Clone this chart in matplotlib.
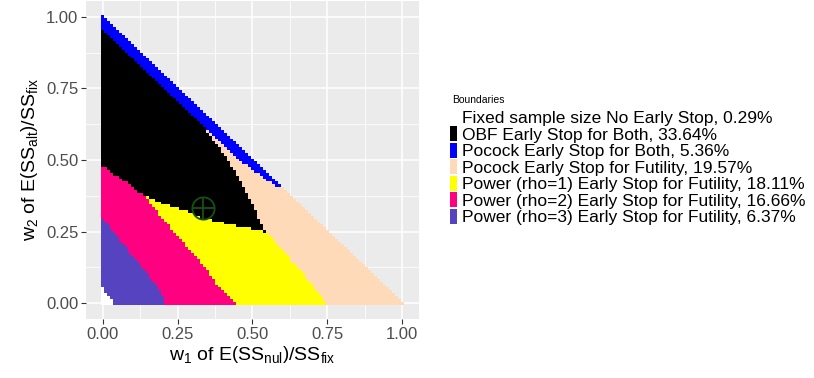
import numpy as np
import matplotlib
matplotlib.use("Agg")
import matplotlib.pyplot as plt
from matplotlib.colors import ListedColormap, BoundaryNorm
from matplotlib.patches import Patch

plt.rcParams["font.family"] = ["Liberation Sans", "DejaVu Sans"]
plt.rcParams["mathtext.fontset"] = "custom"
plt.rcParams["mathtext.rm"] = "Liberation Sans"
plt.rcParams["mathtext.it"] = "Liberation Sans:italic"

categories = [
    "Fixed sample size No Early Stop",
    "OBF Early Stop for Both",
    "Pocock Early Stop for Both",
    "Pocock Early Stop for Futility",
    "Power (rho=1) Early Stop for Futility",
    "Power (rho=2) Early Stop for Futility",
    "Power (rho=3) Early Stop for Futility",
]
shares = ["0.29%", "33.64%", "5.36%", "19.57%", "18.11%", "16.66%", "6.37%"]
colors = ["#FFFFFF", "#000000", "#0000FF", "#FFDAB9", "#FFFF00", "#FF0080", "#5543BF"]

# weight grid, step 0.01
grid = np.round(np.arange(0, 101) * 0.01, 2)

# region boundaries (w2 limit as a function of w1 unless noted)
fixed_w1 = [0.0, 0.01, 0.02, 0.03, 0.04]
fixed_w2 = [0.055, 0.04, 0.025, 0.015, -0.01]
rho3_w1 = [0.0, 0.04, 0.085, 0.13, 0.174, 0.197, 0.21, 0.30]
rho3_w2 = [0.30, 0.245, 0.186, 0.128, 0.07, 0.035, 0.0, -0.1]
rho2_w1 = [0.0, 0.04, 0.085, 0.147, 0.197, 0.263, 0.33, 0.38, 0.445, 0.50]
rho2_w2 = [0.478, 0.45, 0.42, 0.365, 0.30, 0.22, 0.14, 0.07, 0.0, -0.1]
rho1_w1 = [0.14, 0.15, 0.185, 0.25, 0.30, 0.33, 0.38, 0.435, 0.49, 0.54, 0.56]
rho1_w2 = [0.30, 0.375, 0.352, 0.333, 0.315, 0.30, 0.287, 0.273, 0.262, 0.25, 0.245]
# pocock futility: w1 limit as a function of w2
futil_w2 = [0.0, 0.046, 0.116, 0.186, 0.245, 0.267, 0.384, 0.50, 0.605, 0.62, 1.0]
futil_w1 = [0.745, 0.713, 0.658, 0.60, 0.549, 0.535, 0.48, 0.419, 0.345, 0.34, 1.0]
# pocock both: band depth (cells below the diagonal) as a function of w1
both_w1 = [0.0, 0.30, 0.45, 0.52, 0.56, 0.59, 0.60]
both_depth = [5, 5, 4.5, 3, 2, 1, 0]

target = (1 / 3, 1 / 3)

w1, w2 = np.meshgrid(grid, grid)
inside = w1 + w2 <= 1 + 1e-9
depth = np.round((1 - w1 - w2) * 100)

code = np.ones(w1.shape, dtype=int)
code[w2 < np.interp(w1, rho1_w1, rho1_w2)] = 4
code[w1 > np.interp(w2, futil_w2, futil_w1)] = 3
code[w2 < np.interp(w1, rho2_w1, rho2_w2)] = 5
code[w2 < np.interp(w1, rho3_w1, rho3_w2)] = 6
code[w2 < np.interp(w1, fixed_w1, fixed_w2)] = 0
code[depth < np.interp(w1, both_w1, both_depth)] = 2
code = np.ma.masked_where(~inside, code)

fig = plt.figure(figsize=(8.14, 3.78), dpi=100)
ax = fig.add_axes([86 / 814, 1 - 319 / 378, 333 / 814, 318 / 378])

edges = np.arange(-0.005, 1.006, 0.01)
ax.pcolormesh(edges, edges, code, cmap=ListedColormap(colors),
              norm=BoundaryNorm(np.arange(-0.5, 7.5, 1), 7),
              shading="flat", edgecolors="none", antialiased=False)

ax.plot(*target, marker="o", ms=16, mfc="none", mec="#145214", mew=1.3)
ax.plot(*target, marker="+", ms=16, mec="#145214", mew=1.3)

ax.set_xlim(-0.0555, 1.0555)
ax.set_ylim(-0.0555, 1.0555)
ax.set_facecolor("#EBEBEB")
ticks = [0, 0.25, 0.5, 0.75, 1.0]
ax.set_xticks(ticks)
ax.set_yticks(ticks)
ax.set_xticklabels([f"{t:.2f}" for t in ticks])
ax.set_yticklabels([f"{t:.2f}" for t in ticks])
ax.set_xticks([0.125, 0.375, 0.625, 0.875], minor=True)
ax.set_yticks([0.125, 0.375, 0.625, 0.875], minor=True)
ax.set_axisbelow(True)
ax.grid(which="major", color="white", lw=1.1)
ax.grid(which="minor", color="white", lw=0.55)
for s in ax.spines.values():
    s.set_visible(False)
ax.tick_params(which="major", length=3.5, width=0.8, color="#333333",
               labelsize=12, labelcolor="#4D4D4D", pad=2)
ax.tick_params(which="minor", length=0)

ax.set_xlabel(r"$\mathrm{w_1\ of\ E\left(SS_{nul}\right)/SS_{fix}}$",
              fontsize=14, labelpad=2)
ax.set_ylabel(r"$\mathrm{w_2\ of\ E\left(SS_{alt}\right)/SS_{fix}}$",
              fontsize=14, labelpad=4)

handles = [Patch(facecolor=c, edgecolor="none") for c in colors]
labels = [f"{c}, {s}" for c, s in zip(categories, shares)]
fig.text(452 / 814, 1 - 100 / 378, "Boundaries", fontsize=7.5, va="center", ha="left")
fig.legend(handles, labels, loc="upper left", bbox_to_anchor=(450 / 814, 1 - 110 / 378),
           frameon=False, fontsize=12.5,
           handlelength=0.4, handleheight=0.95, handletextpad=0.3, labelspacing=0.0,
           borderaxespad=0, borderpad=0)

fig.savefig("out.png", dpi=100)
